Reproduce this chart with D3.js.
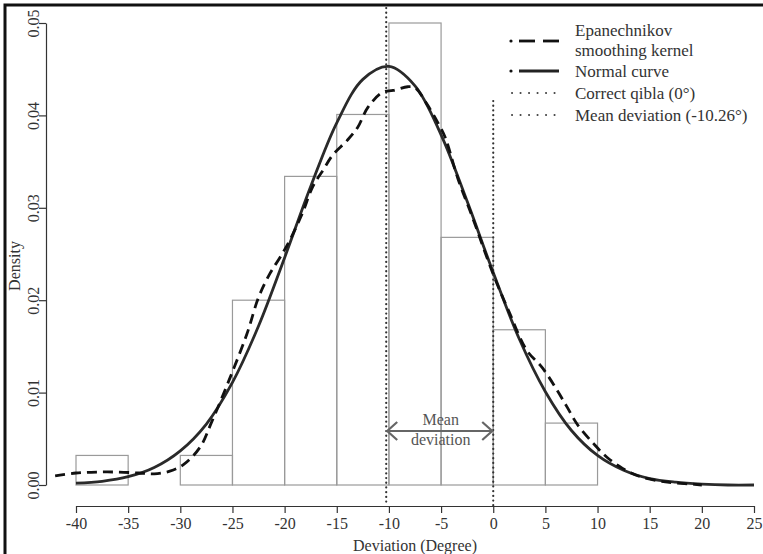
<!DOCTYPE html>
<html>
<head>
<meta charset="utf-8">
<script src="https://cdn.jsdelivr.net/npm/d3@7"></script>
<style>
  body { margin: 0; background: #fff; }
  svg text { font-family: "Liberation Serif", "Times New Roman", Times, "DejaVu Serif", serif !important; fill: #333; }
</style>
</head>
<body>
<svg class="chart"></svg>
<script>
// histogram bins (left edge, density)
var binStarts = [-40, -35, -30, -25, -20, -15, -10, -5, 0, 5];
var binDensity = [0.0032, 0.0, 0.0032, 0.0200, 0.0334, 0.0401, 0.0500, 0.0268, 0.0168, 0.0067];
var binWidth = 5;

// normal curve
var normX = [-40, -37.5, -35, -32.5, -30, -27.5, -25, -22.5, -20, -17.5, -15, -12.5, -10, -7.5,
             -5, -2.5, 0, 2.5, 5, 7.5, 10, 12.5, 15, 17.5, 20, 22.5, 25];
var normY = [0.0002, 0.0004, 0.0009, 0.0019, 0.0037, 0.0066, 0.0111, 0.0172, 0.0246, 0.0323,
             0.0392, 0.0439, 0.0453, 0.0432, 0.0379, 0.0307, 0.0230, 0.0158, 0.0101, 0.0059,
             0.0032, 0.0016, 0.0007, 0.0003, 0.0001, 0.0000, 0.0000];

// Epanechnikov kernel density
var kdeX = [-42, -40, -38, -36, -34, -32.5, -31, -29.7, -28.1, -27, -25.2, -23.6, -22.5, -21.4,
            -20.4, -19.5, -18.3, -17.3, -16.3, -15.4, -14, -13, -12, -10.6, -9.6, -8.2, -7.5,
            -6.4, -5.3, -4.6, -3.4, -2, 0, 1.5, 3.2, 4.7, 6.1, 7.1, 8.1, 9.6, 10.9, 12.4, 14.1,
            16.7, 19, 20];
var kdeY = [0.0010, 0.0013, 0.0014, 0.0014, 0.0013, 0.0012, 0.0015, 0.0022, 0.0041, 0.0068,
            0.0117, 0.0164, 0.0203, 0.0229, 0.0247, 0.0265, 0.0294, 0.0323, 0.0341, 0.0357,
            0.0373, 0.0387, 0.0409, 0.0425, 0.0427, 0.0431, 0.0430, 0.0413, 0.0392, 0.0376,
            0.0332, 0.0290, 0.0228, 0.0188, 0.0146, 0.0127, 0.0103, 0.0084, 0.0065, 0.0045,
            0.0030, 0.0018, 0.0009, 0.0003, 0.0001, 0.0000];

var xTicks = d3.range(-40, 26, 5);
var yTicks = [0, 0.01, 0.02, 0.03, 0.04, 0.05];
var meanDev = -10.26;
var qibla = 0;

var legendItems = [
  {label: ['Epanechnikov', 'smoothing kernel'], kind: 'kde'},
  {label: ['Normal curve'], kind: 'norm'},
  {label: ['Correct qibla (0\u00b0)'], kind: 'dot'},
  {label: ['Mean deviation (-10.26\u00b0)'], kind: 'dot'}
];

var width = 763, height = 554;
var serif = '"Liberation Serif", "Times New Roman", Times, serif';
var svg = d3.select('.chart').attr('width', width).attr('height', height)
   .attr('font-family', serif);

var x = d3.scaleLinear().domain([-40, 25]).range([76, 754]);
var y = d3.scaleLinear().domain([0, 0.05]).range([485, 23]);

// frame
svg.append('path').attr('d', 'M5,' + height + 'V5H' + width)
   .attr('fill', 'none').attr('stroke', '#111').attr('stroke-width', 3);

// histogram
svg.selectAll('rect.bin')
   .data(binStarts)
   .enter().append('rect')
   .attr('class', 'bin')
   .attr('x', function(d) { return x(d); })
   .attr('width', function(d) { return x(d + binWidth) - x(d); })
   .attr('y', function(d, i) { return y(binDensity[i]); })
   .attr('height', function(d, i) { return y(0) - y(binDensity[i]); })
   .attr('fill', 'none').attr('stroke', '#9a9a9a').attr('stroke-width', 1.2);

// vertical reference lines
var axisY = 506;
svg.append('line')
   .attr('x1', x(meanDev)).attr('x2', x(meanDev))
   .attr('y1', 8).attr('y2', axisY)
   .attr('stroke', '#333').attr('stroke-width', 2.2)
   .attr('stroke-dasharray', '0.1,4.6').attr('stroke-linecap', 'round');
svg.append('line')
   .attr('x1', x(qibla)).attr('x2', x(qibla))
   .attr('y1', 101).attr('y2', axisY)
   .attr('stroke', '#333').attr('stroke-width', 2.2)
   .attr('stroke-dasharray', '0.1,4.6').attr('stroke-linecap', 'round');

// curves
var line = d3.line()
   .x(function(d) { return x(d[0]); })
   .y(function(d) { return y(d[1]); })
   .curve(d3.curveCatmullRom);

svg.append('path')
   .datum(d3.zip(normX, normY))
   .attr('d', line)
   .attr('fill', 'none').attr('stroke', '#2a2a2a').attr('stroke-width', 2.8);

svg.append('path')
   .datum(d3.zip(kdeX, kdeY))
   .attr('d', line)
   .attr('fill', 'none').attr('stroke', '#111').attr('stroke-width', 2.8)
   .attr('stroke-dasharray', '10,6');

// mean deviation arrow
var arrowY = 431;
var ag = svg.append('g').attr('stroke', '#666').attr('stroke-width', 2.2).attr('fill', 'none');
ag.append('line').attr('x1', x(meanDev) + 1).attr('x2', x(qibla) - 1)
  .attr('y1', arrowY).attr('y2', arrowY);
ag.append('path').attr('d', 'M' + (x(meanDev) + 11) + ',' + (arrowY - 9) + 'L' + (x(meanDev) + 1) + ',' + arrowY +
                       'L' + (x(meanDev) + 11) + ',' + (arrowY + 9));
ag.append('path').attr('d', 'M' + (x(qibla) - 11) + ',' + (arrowY - 9) + 'L' + (x(qibla) - 1) + ',' + arrowY +
                       'L' + (x(qibla) - 11) + ',' + (arrowY + 9));
svg.append('text').attr('x', (x(meanDev) + x(qibla)) / 2 + 1).attr('y', 425)
   .attr('text-anchor', 'middle').style('font-size', '16px').style('fill', '#555').text('Mean');
svg.append('text').attr('x', (x(meanDev) + x(qibla)) / 2 + 1).attr('y', 445)
   .attr('text-anchor', 'middle').style('font-size', '16px').style('fill', '#555').text('deviation');

// x axis
var xAxis = svg.append('g').attr('transform', 'translate(0,' + axisY + ')')
   .call(d3.axisBottom(x).tickValues(xTicks).tickSize(7).tickSizeOuter(0).tickFormat(d3.format('d')));
xAxis.attr('font-family', serif);
xAxis.select('.domain').attr('stroke', '#333').attr('stroke-width', 1.2);
xAxis.selectAll('.tick line').attr('stroke', '#333').attr('stroke-width', 1.2);
xAxis.selectAll('.tick text').attr('y', 12).attr('dy', '0.71em')
   .style('font-size', '16px').style('fill', '#333')
   .text(function(d) { return String(d); });

svg.append('text').attr('x', 415).attr('y', 551).attr('text-anchor', 'middle')
   .style('font-size', '16px').text('Deviation (Degree)');

// y axis
var yAxis = svg.append('g').attr('transform', 'translate(46,0)')
   .call(d3.axisLeft(y).tickValues(yTicks).tickSize(7).tickSizeOuter(0).tickFormat(d3.format('.2f')));
yAxis.attr('font-family', serif);
yAxis.select('.domain').attr('stroke', '#333').attr('stroke-width', 1.2);
yAxis.selectAll('.tick line').attr('stroke', '#333').attr('stroke-width', 1.2);
yAxis.selectAll('.tick text')
   .attr('x', null).attr('dy', null)
   .attr('transform', 'translate(-7,0) rotate(-90)')
   .attr('text-anchor', 'middle')
   .style('font-size', '16px').style('fill', '#333');

svg.append('text').attr('transform', 'translate(20,266) rotate(-90)').attr('text-anchor', 'middle')
   .style('font-size', '16px').text('Density');

// legend
var lg = svg.append('g');
var rowY = [41, 71, 93, 115];
var textY = [[36, 56], [77], [99], [121]];
legendItems.forEach(function(item, i) {
  var yy = rowY[i];
  if (item.kind === 'kde') {
    lg.append('circle').attr('cx', 511).attr('cy', yy).attr('r', 1.6).attr('fill', '#111');
    lg.append('line').attr('x1', 519).attr('x2', 535).attr('y1', yy).attr('y2', yy)
      .attr('stroke', '#111').attr('stroke-width', 2.8);
    lg.append('line').attr('x1', 543).attr('x2', 559).attr('y1', yy).attr('y2', yy)
      .attr('stroke', '#111').attr('stroke-width', 2.8);
  } else if (item.kind === 'norm') {
    lg.append('circle').attr('cx', 511).attr('cy', yy).attr('r', 1.6).attr('fill', '#111');
    lg.append('line').attr('x1', 519).attr('x2', 559).attr('y1', yy).attr('y2', yy)
      .attr('stroke', '#222').attr('stroke-width', 2.8);
  } else {
    lg.append('line').attr('x1', 512).attr('x2', 560).attr('y1', yy).attr('y2', yy)
      .attr('stroke', '#444').attr('stroke-width', 2)
      .attr('stroke-dasharray', '0.1,8.4').attr('stroke-linecap', 'round');
  }
  item.label.forEach(function(t, j) {
    lg.append('text').attr('x', 575).attr('y', textY[i][j])
      .style('font-size', '17px').text(t);
  });
});
</script>
</body>
</html>
